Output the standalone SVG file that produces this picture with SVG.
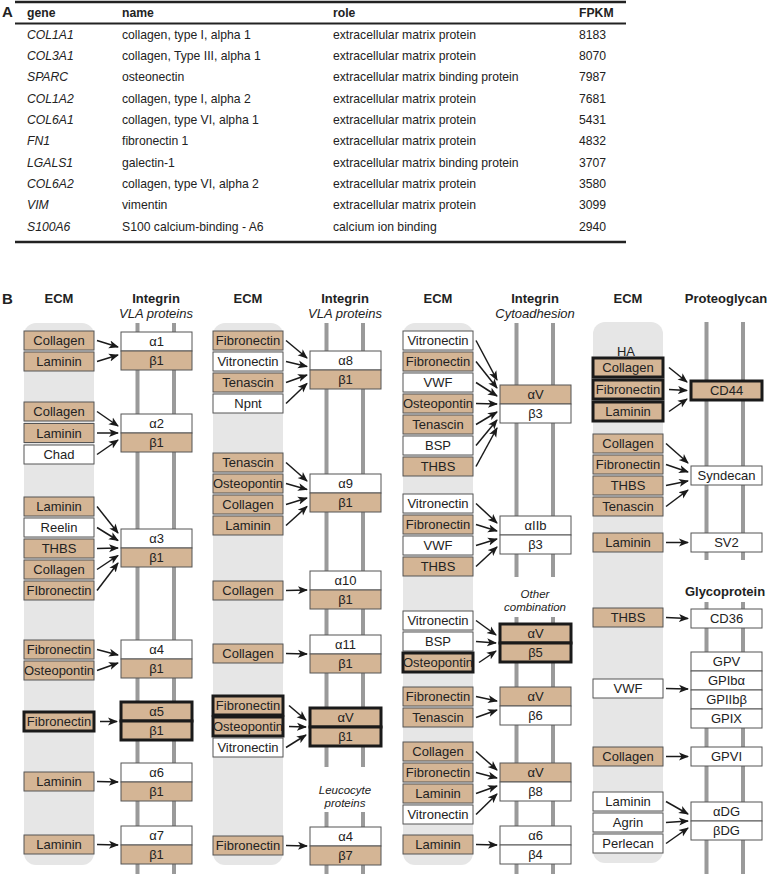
<svg xmlns="http://www.w3.org/2000/svg" width="767" height="874" viewBox="0 0 767 874">
<style>
text{font-family:"Liberation Sans",Arial,sans-serif;font-size:13px;fill:#222}
.tb text{font-size:12.2px}
.c{text-anchor:middle}
.b{font-weight:bold}
.i{font-style:italic}
.sm{font-size:11.5px}
.t{fill:#d4b595;stroke:#555;stroke-width:1}
.w{fill:#fff;stroke:#555;stroke-width:1}
.k{stroke:#1a1a1a;stroke-width:3}
.bg{fill:#e6e6e6}
.bar{fill:#9a9a9a}
.rule{stroke:#222;fill:none}
.arr{stroke:#1a1a1a;stroke-width:1.5;fill:none;marker-end:url(#ah)}
</style>
<defs>
<marker id="ah" markerUnits="userSpaceOnUse" markerWidth="11" markerHeight="9" refX="9" refY="4.5" orient="auto"><path d="M0,0.5 L10,4.5 L0,8.5 L2.5,4.5 z" fill="#1a1a1a"/></marker>
</defs>
<rect width="767" height="874" fill="#fff"/>
<!-- Panel A table -->
<text x="2" y="17" class="b" style="font-size:15px">A</text>
<g id="table" class="tb">
<line class="rule" x1="15" y1="2" x2="626" y2="2" stroke-width="2.5"/>
<text x="27" y="17" class="b">gene</text><text x="122" y="17" class="b">name</text><text x="333" y="17" class="b">role</text><text x="579" y="17" class="b">FPKM</text>
<line class="rule" x1="15" y1="23.5" x2="626" y2="23.5" stroke-width="2"/>
<text x="27" y="38.5" class="i">COL1A1</text><text x="122" y="38.5">collagen, type I, alpha 1</text><text x="333" y="38.5">extracellular matrix protein</text><text x="579" y="38.5">8183</text>
<text x="27" y="59.9" class="i">COL3A1</text><text x="122" y="59.9">collagen, Type III, alpha 1</text><text x="333" y="59.9">extracellular matrix protein</text><text x="579" y="59.9">8070</text>
<text x="27" y="81.2" class="i">SPARC</text><text x="122" y="81.2">osteonectin</text><text x="333" y="81.2">extracellular matrix binding protein</text><text x="579" y="81.2">7987</text>
<text x="27" y="102.6" class="i">COL1A2</text><text x="122" y="102.6">collagen, type I, alpha 2</text><text x="333" y="102.6">extracellular matrix protein</text><text x="579" y="102.6">7681</text>
<text x="27" y="123.9" class="i">COL6A1</text><text x="122" y="123.9">collagen, type VI, alpha 1</text><text x="333" y="123.9">extracellular matrix protein</text><text x="579" y="123.9">5431</text>
<text x="27" y="145.3" class="i">FN1</text><text x="122" y="145.3">fibronectin 1</text><text x="333" y="145.3">extracellular matrix protein</text><text x="579" y="145.3">4832</text>
<text x="27" y="166.6" class="i">LGALS1</text><text x="122" y="166.6">galectin-1</text><text x="333" y="166.6">extracellular matrix binding protein</text><text x="579" y="166.6">3707</text>
<text x="27" y="188" class="i">COL6A2</text><text x="122" y="188">collagen, type VI, alpha 2</text><text x="333" y="188">extracellular matrix protein</text><text x="579" y="188">3580</text>
<text x="27" y="209.3" class="i">VIM</text><text x="122" y="209.3">vimentin</text><text x="333" y="209.3">extracellular matrix protein</text><text x="579" y="209.3">3099</text>
<text x="27" y="230.7" class="i">S100A6</text><text x="122" y="230.7">S100 calcium-binding - A6</text><text x="333" y="230.7">calcium ion binding</text><text x="579" y="230.7">2940</text>
<line class="rule" x1="15" y1="242" x2="626" y2="242" stroke-width="2.5"/>
</g>
<text x="2" y="304" class="b" style="font-size:15px">B</text>
<!-- Section backgrounds, bars, headers -->
<g id="s1-frame" transform="translate(24,0)">
<rect class="bg" x="0" y="323" width="70" height="542" rx="12"/>
<rect class="bar" x="111.5" y="323" width="4" height="551"/><rect class="bar" x="148" y="323" width="4" height="551"/>
<text x="35" y="303" class="c b">ECM</text><text x="132" y="303" class="c b">Integrin</text><text x="132" y="318" class="c i">VLA proteins</text>
</g>
<g id="s2-frame" transform="translate(213,0)">
<rect class="bg" x="0" y="323" width="70" height="542" rx="12"/>
<rect class="bar" x="111.5" y="323" width="4" height="444"/><rect class="bar" x="148" y="323" width="4" height="444"/>
<rect class="bar" x="111.5" y="812" width="4" height="62"/><rect class="bar" x="148" y="812" width="4" height="62"/>
<text x="35" y="303" class="c b">ECM</text><text x="132" y="303" class="c b">Integrin</text><text x="132" y="318" class="c i">VLA proteins</text>
<text x="132" y="793.5" class="c i sm">Leucocyte</text><text x="132" y="806.5" class="c i sm">proteins</text>
</g>
<g id="s3-frame" transform="translate(403,0)">
<rect class="bg" x="0" y="323" width="70" height="542" rx="12"/>
<rect class="bar" x="111.5" y="323" width="4" height="254"/><rect class="bar" x="148" y="323" width="4" height="254"/>
<rect class="bar" x="111.5" y="617" width="4" height="257"/><rect class="bar" x="148" y="617" width="4" height="257"/>
<text x="35" y="303" class="c b">ECM</text><text x="132" y="303" class="c b">Integrin</text><text x="132" y="318" class="c i">Cytoadhesion</text>
<text x="132" y="597.5" class="c i sm">Other</text><text x="132" y="610.5" class="c i sm">combination</text>
</g>
<g id="s4-frame" transform="translate(593,0)">
<rect class="bg" x="0" y="322" width="70" height="541" rx="12"/>
<rect class="bar" x="111.5" y="322" width="4" height="238"/><rect class="bar" x="148" y="322" width="4" height="238"/>
<rect class="bar" x="111.5" y="602" width="4" height="272"/><rect class="bar" x="148" y="602" width="4" height="272"/>
<text x="35" y="303" class="c b">ECM</text><text x="133" y="303" class="c b">Proteoglycan</text>
<text x="132" y="596" class="c b">Glycoprotein</text>
<text x="33" y="356" class="c">HA</text>
</g>
<!-- Section 1 nodes -->
<g transform="translate(24,0)">
<g id="s1-collagen1"><rect class="t" x="0" y="331" width="70" height="19"/><text x="35" y="345" class="c">Collagen</text></g>
<g id="s1-laminin1"><rect class="t" x="0" y="352" width="70" height="19"/><text x="35" y="366" class="c">Laminin</text></g>
<g id="s1-collagen2"><rect class="t" x="0" y="402" width="70" height="19"/><text x="35" y="416" class="c">Collagen</text></g>
<g id="s1-laminin2"><rect class="t" x="0" y="423.5" width="70" height="19"/><text x="35" y="437.5" class="c">Laminin</text></g>
<g id="s1-chad"><rect class="w" x="0" y="445" width="70" height="19"/><text x="35" y="459" class="c">Chad</text></g>
<g id="s1-laminin3"><rect class="t" x="0" y="497" width="70" height="19"/><text x="35" y="511" class="c">Laminin</text></g>
<g id="s1-reelin"><rect class="w" x="0" y="518" width="70" height="19"/><text x="35" y="532" class="c">Reelin</text></g>
<g id="s1-thbs"><rect class="t" x="0" y="539" width="70" height="19"/><text x="35" y="553" class="c">THBS</text></g>
<g id="s1-collagen3"><rect class="t" x="0" y="560" width="70" height="19"/><text x="35" y="574" class="c">Collagen</text></g>
<g id="s1-fibronectin1"><rect class="t" x="0" y="581" width="70" height="19"/><text x="35" y="595" class="c">FIbronectin</text></g>
<g id="s1-fibronectin2"><rect class="t" x="0" y="640" width="70" height="19"/><text x="35" y="654" class="c">Fibronectin</text></g>
<g id="s1-osteopontin"><rect class="t" x="0" y="661" width="70" height="19"/><text x="35" y="675" class="c">Osteopontin</text></g>
<g id="s1-fibronectin3"><rect class="t k" x="0" y="712" width="70" height="19"/><text x="35" y="726" class="c">Fibronectin</text></g>
<g id="s1-laminin4"><rect class="t" x="0" y="772" width="70" height="19"/><text x="35" y="786" class="c">Laminin</text></g>
<g id="s1-laminin5"><rect class="t" x="0" y="835" width="70" height="19"/><text x="35" y="849" class="c">Laminin</text></g>
<g id="s1-a1b1"><rect class="w" x="97" y="332" width="71" height="19"/><text x="132.5" y="346" class="c">α1</text><rect class="t" x="97" y="351" width="71" height="19"/><text x="132.5" y="365" class="c">β1</text></g>
<g id="s1-a2b1"><rect class="w" x="97" y="414" width="71" height="19"/><text x="132.5" y="428" class="c">α2</text><rect class="t" x="97" y="433" width="71" height="19"/><text x="132.5" y="447" class="c">β1</text></g>
<g id="s1-a3b1"><rect class="w" x="97" y="529" width="71" height="19"/><text x="132.5" y="543" class="c">α3</text><rect class="t" x="97" y="548" width="71" height="19"/><text x="132.5" y="562" class="c">β1</text></g>
<g id="s1-a4b1"><rect class="w" x="97" y="640" width="71" height="19"/><text x="132.5" y="654" class="c">α4</text><rect class="t" x="97" y="659" width="71" height="19"/><text x="132.5" y="673" class="c">β1</text></g>
<g id="s1-a5b1"><rect class="t k" x="97" y="702" width="71" height="19"/><text x="132.5" y="716" class="c">α5</text><rect class="t k" x="97" y="721" width="71" height="19"/><text x="132.5" y="735" class="c">β1</text></g>
<g id="s1-a6b1"><rect class="w" x="97" y="763" width="71" height="19"/><text x="132.5" y="777" class="c">α6</text><rect class="t" x="97" y="782" width="71" height="19"/><text x="132.5" y="796" class="c">β1</text></g>
<g id="s1-a7b1"><rect class="w" x="97" y="826" width="71" height="19"/><text x="132.5" y="840" class="c">α7</text><rect class="t" x="97" y="845" width="71" height="19"/><text x="132.5" y="859" class="c">β1</text></g>
</g>
<!-- Section 2 nodes -->
<g transform="translate(213,0)">
<g id="s2-fibronectin1"><rect class="t" x="0" y="331" width="70" height="19"/><text x="35" y="345" class="c">Fibronectin</text></g>
<g id="s2-vitronectin1"><rect class="w" x="0" y="352" width="70" height="19"/><text x="35" y="366" class="c">Vitronectin</text></g>
<g id="s2-tenascin1"><rect class="t" x="0" y="373" width="70" height="19"/><text x="35" y="387" class="c">Tenascin</text></g>
<g id="s2-npnt"><rect class="w" x="0" y="394" width="70" height="19"/><text x="35" y="408" class="c">Npnt</text></g>
<g id="s2-tenascin2"><rect class="t" x="0" y="453" width="70" height="19"/><text x="35" y="467" class="c">Tenascin</text></g>
<g id="s2-osteopontin1"><rect class="t" x="0" y="474" width="70" height="19"/><text x="35" y="488" class="c">Osteopontin</text></g>
<g id="s2-collagen1"><rect class="t" x="0" y="495" width="70" height="19"/><text x="35" y="509" class="c">Collagen</text></g>
<g id="s2-laminin"><rect class="t" x="0" y="516" width="70" height="19"/><text x="35" y="530" class="c">Laminin</text></g>
<g id="s2-collagen2"><rect class="t" x="0" y="581" width="70" height="19"/><text x="35" y="595" class="c">Collagen</text></g>
<g id="s2-collagen3"><rect class="t" x="0" y="644" width="70" height="19"/><text x="35" y="658" class="c">Collagen</text></g>
<g id="s2-fibronectin2"><rect class="t k" x="0" y="696" width="70" height="19"/><text x="35" y="710" class="c">Fibronectin</text></g>
<g id="s2-osteopontin2"><rect class="t k" x="0" y="717" width="70" height="19"/><text x="35" y="731" class="c">Osteopontin</text></g>
<g id="s2-vitronectin2"><rect class="w" x="0" y="738" width="70" height="19"/><text x="35" y="752" class="c">Vitronectin</text></g>
<g id="s2-fibronectin3"><rect class="t" x="0" y="836" width="70" height="19"/><text x="35" y="850" class="c">Fibronectin</text></g>
<g id="s2-a8b1"><rect class="w" x="97" y="351" width="71" height="19"/><text x="132.5" y="365" class="c">α8</text><rect class="t" x="97" y="370" width="71" height="19"/><text x="132.5" y="384" class="c">β1</text></g>
<g id="s2-a9b1"><rect class="w" x="97" y="474" width="71" height="19"/><text x="132.5" y="488" class="c">α9</text><rect class="t" x="97" y="493" width="71" height="19"/><text x="132.5" y="507" class="c">β1</text></g>
<g id="s2-a10b1"><rect class="w" x="97" y="571" width="71" height="19"/><text x="132.5" y="585" class="c">α10</text><rect class="t" x="97" y="590" width="71" height="19"/><text x="132.5" y="604" class="c">β1</text></g>
<g id="s2-a11b1"><rect class="w" x="97" y="635" width="71" height="19"/><text x="132.5" y="649" class="c">α11</text><rect class="t" x="97" y="654" width="71" height="19"/><text x="132.5" y="668" class="c">β1</text></g>
<g id="s2-avb1"><rect class="t k" x="97" y="708" width="71" height="19"/><text x="132.5" y="722" class="c">αV</text><rect class="t k" x="97" y="727" width="71" height="19"/><text x="132.5" y="741" class="c">β1</text></g>
<g id="s2-a4b7"><rect class="w" x="97" y="827" width="71" height="19"/><text x="132.5" y="841" class="c">α4</text><rect class="t" x="97" y="846" width="71" height="19"/><text x="132.5" y="860" class="c">β7</text></g>
</g>
<!-- Section 3 nodes -->
<g transform="translate(403,0)">
<g id="s3-vitronectin1"><rect class="w" x="0" y="331" width="70" height="19"/><text x="35" y="345" class="c">Vitronectin</text></g>
<g id="s3-fibronectin1"><rect class="t" x="0" y="352" width="70" height="19"/><text x="35" y="366" class="c">Fibronectin</text></g>
<g id="s3-vwf1"><rect class="w" x="0" y="373" width="70" height="19"/><text x="35" y="387" class="c">VWF</text></g>
<g id="s3-osteopontin1"><rect class="t" x="0" y="394" width="70" height="19"/><text x="35" y="408" class="c">Osteopontin</text></g>
<g id="s3-tenascin1"><rect class="t" x="0" y="415" width="70" height="19"/><text x="35" y="429" class="c">Tenascin</text></g>
<g id="s3-bsp1"><rect class="w" x="0" y="436" width="70" height="19"/><text x="35" y="450" class="c">BSP</text></g>
<g id="s3-thbs1"><rect class="t" x="0" y="457" width="70" height="19"/><text x="35" y="471" class="c">THBS</text></g>
<g id="s3-vitronectin2"><rect class="w" x="0" y="494" width="70" height="19"/><text x="35" y="508" class="c">Vitronectin</text></g>
<g id="s3-fibronectin2"><rect class="t" x="0" y="515" width="70" height="19"/><text x="35" y="529" class="c">Fibronectin</text></g>
<g id="s3-vwf2"><rect class="w" x="0" y="536" width="70" height="19"/><text x="35" y="550" class="c">VWF</text></g>
<g id="s3-thbs2"><rect class="t" x="0" y="557" width="70" height="19"/><text x="35" y="571" class="c">THBS</text></g>
<g id="s3-vitronectin3"><rect class="w" x="0" y="611" width="70" height="19"/><text x="35" y="625" class="c">Vitronectin</text></g>
<g id="s3-bsp2"><rect class="w" x="0" y="632" width="70" height="19"/><text x="35" y="646" class="c">BSP</text></g>
<g id="s3-osteopontin2"><rect class="t k" x="0" y="653" width="70" height="19"/><text x="35" y="667" class="c">Osteopontin</text></g>
<g id="s3-fibronectin3"><rect class="t" x="0" y="687" width="70" height="19"/><text x="35" y="701" class="c">Fibronectin</text></g>
<g id="s3-tenascin2"><rect class="t" x="0" y="708" width="70" height="19"/><text x="35" y="722" class="c">Tenascin</text></g>
<g id="s3-collagen"><rect class="t" x="0" y="742" width="70" height="19"/><text x="35" y="756" class="c">Collagen</text></g>
<g id="s3-fibronectin4"><rect class="t" x="0" y="763" width="70" height="19"/><text x="35" y="777" class="c">Fibronectin</text></g>
<g id="s3-laminin1"><rect class="t" x="0" y="784" width="70" height="19"/><text x="35" y="798" class="c">Laminin</text></g>
<g id="s3-vitronectin4"><rect class="w" x="0" y="805" width="70" height="19"/><text x="35" y="819" class="c">Vitronectin</text></g>
<g id="s3-laminin2"><rect class="t" x="0" y="835" width="70" height="19"/><text x="35" y="849" class="c">Laminin</text></g>
<g id="s3-avb3"><rect class="t" x="97" y="385" width="71" height="19"/><text x="132.5" y="399" class="c">αV</text><rect class="w" x="97" y="404" width="71" height="19"/><text x="132.5" y="418" class="c">β3</text></g>
<g id="s3-aiibb3"><rect class="w" x="97" y="516" width="71" height="19"/><text x="132.5" y="530" class="c">αIIb</text><rect class="w" x="97" y="535" width="71" height="19"/><text x="132.5" y="549" class="c">β3</text></g>
<g id="s3-avb5"><rect class="t k" x="97" y="624" width="71" height="19"/><text x="132.5" y="638" class="c">αV</text><rect class="t k" x="97" y="643" width="71" height="19"/><text x="132.5" y="657" class="c">β5</text></g>
<g id="s3-avb6"><rect class="t" x="97" y="687" width="71" height="19"/><text x="132.5" y="701" class="c">αV</text><rect class="w" x="97" y="706" width="71" height="19"/><text x="132.5" y="720" class="c">β6</text></g>
<g id="s3-avb8"><rect class="t" x="97" y="763" width="71" height="19"/><text x="132.5" y="777" class="c">αV</text><rect class="w" x="97" y="782" width="71" height="19"/><text x="132.5" y="796" class="c">β8</text></g>
<g id="s3-a6b4"><rect class="w" x="97" y="826" width="71" height="19"/><text x="132.5" y="840" class="c">α6</text><rect class="w" x="97" y="845" width="71" height="19"/><text x="132.5" y="859" class="c">β4</text></g>
</g>
<!-- Section 4 nodes -->
<g transform="translate(593,0)">
<g id="s4-collagen1"><rect class="t k" x="0" y="358" width="70" height="19"/><text x="35" y="372" class="c">Collagen</text></g>
<g id="s4-fibronectin1"><rect class="t k" x="0" y="380" width="70" height="19"/><text x="35" y="394" class="c">Fibronectin</text></g>
<g id="s4-laminin1"><rect class="t k" x="0" y="402" width="70" height="19"/><text x="35" y="416" class="c">Laminin</text></g>
<g id="s4-collagen2"><rect class="t" x="0" y="434" width="70" height="19"/><text x="35" y="448" class="c">Collagen</text></g>
<g id="s4-fibronectin2"><rect class="t" x="0" y="455" width="70" height="19"/><text x="35" y="469" class="c">Fibronectin</text></g>
<g id="s4-thbs1"><rect class="t" x="0" y="476" width="70" height="19"/><text x="35" y="490" class="c">THBS</text></g>
<g id="s4-tenascin"><rect class="t" x="0" y="497" width="70" height="19"/><text x="35" y="511" class="c">Tenascin</text></g>
<g id="s4-laminin2"><rect class="t" x="0" y="533" width="70" height="19"/><text x="35" y="547" class="c">Laminin</text></g>
<g id="s4-thbs2"><rect class="t" x="0" y="608" width="70" height="19"/><text x="35" y="622" class="c">THBS</text></g>
<g id="s4-vwf"><rect class="w" x="0" y="679" width="70" height="19"/><text x="35" y="693" class="c">VWF</text></g>
<g id="s4-collagen3"><rect class="t" x="0" y="747" width="70" height="19"/><text x="35" y="761" class="c">Collagen</text></g>
<g id="s4-laminin3"><rect class="w" x="0" y="792" width="70" height="19"/><text x="35" y="806" class="c">Laminin</text></g>
<g id="s4-agrin"><rect class="w" x="0" y="813" width="70" height="19"/><text x="35" y="827" class="c">Agrin</text></g>
<g id="s4-perlecan"><rect class="w" x="0" y="834" width="70" height="19"/><text x="35" y="848" class="c">Perlecan</text></g>
<g id="s4-cd44"><rect class="t k" x="98" y="381" width="71" height="19"/><text x="133.5" y="395" class="c">CD44</text></g>
<g id="s4-syndecan"><rect class="w" x="98" y="466" width="71" height="19"/><text x="133.5" y="480" class="c">Syndecan</text></g>
<g id="s4-sv2"><rect class="w" x="98" y="533" width="71" height="19"/><text x="133.5" y="547" class="c">SV2</text></g>
<g id="s4-cd36"><rect class="w" x="98" y="609" width="71" height="19"/><text x="133.5" y="623" class="c">CD36</text></g>
<g id="s4-gp"><rect class="w" x="98" y="652" width="71" height="19"/><text x="133.5" y="666" class="c">GPV</text><rect class="w" x="98" y="671" width="71" height="19"/><text x="133.5" y="685" class="c">GPIbα</text><rect class="w" x="98" y="690" width="71" height="19"/><text x="133.5" y="704" class="c">GPIIbβ</text><rect class="w" x="98" y="709" width="71" height="19"/><text x="133.5" y="723" class="c">GPIX</text></g>
<g id="s4-gpvi"><rect class="w" x="98" y="747" width="71" height="19"/><text x="133.5" y="761" class="c">GPVI</text></g>
<g id="s4-dg"><rect class="w" x="98" y="802" width="71" height="19"/><text x="133.5" y="816" class="c">αDG</text><rect class="w" x="98" y="821" width="71" height="19"/><text x="133.5" y="835" class="c">βDG</text></g>
</g>
<!-- Connectors -->
<g id="connectors">
<g transform="translate(24,0)">
<line class="arr" x1="73" y1="340.5" x2="94" y2="347"/><line class="arr" x1="73" y1="361.5" x2="94" y2="355"/>
<line class="arr" x1="73" y1="411.5" x2="94" y2="426"/><line class="arr" x1="73" y1="433" x2="94" y2="433"/><line class="arr" x1="73" y1="454.5" x2="94" y2="440"/>
<line class="arr" x1="73" y1="506.5" x2="94" y2="533"/><line class="arr" x1="73" y1="527.5" x2="94" y2="540.5"/><line class="arr" x1="73" y1="548.5" x2="94" y2="548"/><line class="arr" x1="73" y1="569.5" x2="94" y2="555.5"/><line class="arr" x1="73" y1="590.5" x2="94" y2="563"/>
<line class="arr" x1="73" y1="649.5" x2="94" y2="655"/><line class="arr" x1="73" y1="670.5" x2="94" y2="663"/>
<line class="arr" x1="76" y1="721.5" x2="93" y2="721.5"/>
<line class="arr" x1="73" y1="781.5" x2="94" y2="782"/>
<line class="arr" x1="73" y1="844.5" x2="94" y2="845"/>
</g>
<g transform="translate(213,0)">
<line class="arr" x1="73" y1="340.5" x2="94" y2="358"/><line class="arr" x1="73" y1="361.5" x2="94" y2="366.5"/><line class="arr" x1="73" y1="382.5" x2="94" y2="375"/><line class="arr" x1="73" y1="403.5" x2="94" y2="383.5"/>
<line class="arr" x1="73" y1="462.5" x2="94" y2="481"/><line class="arr" x1="73" y1="483.5" x2="94" y2="489.5"/><line class="arr" x1="73" y1="504.5" x2="94" y2="498"/><line class="arr" x1="73" y1="525.5" x2="94" y2="506.5"/>
<line class="arr" x1="73" y1="590.5" x2="94" y2="590"/>
<line class="arr" x1="73" y1="653.5" x2="94" y2="654"/>
<line class="arr" x1="76" y1="705.5" x2="93" y2="720"/><line class="arr" x1="76" y1="726.5" x2="93" y2="727"/><line class="arr" x1="73" y1="747.5" x2="93" y2="735"/>
<line class="arr" x1="73" y1="845.5" x2="94" y2="846"/>
</g>
<g transform="translate(403,0)">
<line class="arr" x1="73" y1="340.5" x2="94" y2="380"/><line class="arr" x1="73" y1="361.5" x2="94" y2="388"/><line class="arr" x1="73" y1="382.5" x2="94" y2="396"/><line class="arr" x1="73" y1="403.5" x2="94" y2="404"/><line class="arr" x1="73" y1="424.5" x2="94" y2="412"/><line class="arr" x1="73" y1="445.5" x2="94" y2="420"/><line class="arr" x1="73" y1="466.5" x2="94" y2="428"/>
<line class="arr" x1="73" y1="503.5" x2="94" y2="523"/><line class="arr" x1="73" y1="524.5" x2="94" y2="531"/><line class="arr" x1="73" y1="545.5" x2="94" y2="539"/><line class="arr" x1="73" y1="566.5" x2="94" y2="547"/>
<line class="arr" x1="73" y1="620.5" x2="93" y2="635"/><line class="arr" x1="73" y1="641.5" x2="93" y2="643"/><line class="arr" x1="76" y1="662.5" x2="93" y2="651"/>
<line class="arr" x1="73" y1="696.5" x2="94" y2="701"/><line class="arr" x1="73" y1="717.5" x2="94" y2="710"/>
<line class="arr" x1="73" y1="751.5" x2="94" y2="770"/><line class="arr" x1="73" y1="772.5" x2="94" y2="778"/><line class="arr" x1="73" y1="793.5" x2="94" y2="786"/><line class="arr" x1="73" y1="814.5" x2="94" y2="794"/>
<line class="arr" x1="73" y1="844.5" x2="94" y2="845"/>
</g>
<g transform="translate(593,0)">
<line class="arr" x1="76" y1="367.5" x2="94" y2="382"/><line class="arr" x1="76" y1="389.5" x2="94" y2="390.5"/><line class="arr" x1="76" y1="411.5" x2="94" y2="399"/>
<line class="arr" x1="73" y1="443.5" x2="95" y2="463"/><line class="arr" x1="73" y1="464.5" x2="95" y2="472"/><line class="arr" x1="73" y1="485.5" x2="95" y2="481"/><line class="arr" x1="73" y1="506.5" x2="95" y2="490"/>
<line class="arr" x1="73" y1="542.5" x2="95" y2="542.5"/>
<line class="arr" x1="73" y1="617.5" x2="95" y2="618.5"/>
<line class="arr" x1="73" y1="688.5" x2="95" y2="689"/>
<line class="arr" x1="73" y1="756.5" x2="95" y2="756.5"/>
<line class="arr" x1="73" y1="801.5" x2="95" y2="814"/><line class="arr" x1="73" y1="822.5" x2="95" y2="821"/><line class="arr" x1="73" y1="843.5" x2="95" y2="828"/>
</g>
</g>
</svg>
